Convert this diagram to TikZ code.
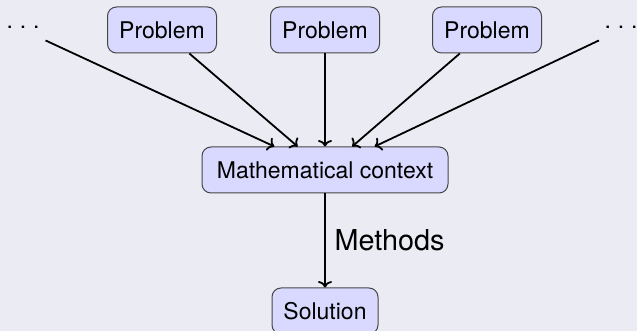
\documentclass[tikz,border=0pt]{standalone}
\usepackage{fontspec}
\setmainfont{TeX Gyre Heros}
\usetikzlibrary{arrows.meta}
\definecolor{bgcol}{RGB}{235,235,244}
\definecolor{boxfill}{RGB}{217,217,255}
\definecolor{boxdraw}{RGB}{70,70,70}
\begin{document}
\begin{tikzpicture}[x=1pt,y=1pt,
  box/.style={draw=boxdraw, fill=boxfill, rounded corners=4.5pt, line width=0.5pt,
    minimum height=23pt, inner sep=0pt, font=\fontsize{11.5}{13}\selectfont},
  dotsnode/.style={inner sep=3.33pt, font=\fontsize{11.5}{13}\selectfont},
  conn/.style={line width=0.9pt, -{To[length=3.2pt,width=7pt]}}]
\useasboundingbox (0,0) rectangle (318.5,165.5);
\clip (0,0) rectangle (318.5,165.5);
\fill[bgcol] (0,0) rectangle (318.5,165.5);
\node[dotsnode] (dl) at (11.5,150.5) {\raisebox{2.2pt}{.\kern.3em.\kern.3em.}};
\node[box, minimum width=54.5pt] (p1) at (81,150.5) {Problem};
\node[box, minimum width=54.5pt] (p2) at (162.5,150.5) {Problem};
\node[box, minimum width=54.5pt] (p3) at (243.5,150.5) {Problem};
\node[dotsnode] (dr) at (310.5,150.5) {\raisebox{2.2pt}{.\kern.3em.\kern.3em.}};
\node[box, minimum width=123pt] (mc) at (162.5,80.5) {Mathematical context};
\node[box, minimum width=53pt] (sol) at (162.5,10) {Solution};
\draw[conn] (dl) -- (mc);
\draw[conn] (p1) -- (mc);
\draw[conn] (p2) -- (mc);
\draw[conn] (p3) -- (mc);
\draw[conn] (dr) -- (mc);
\draw[conn] (mc) -- node[right, xshift=1pt, font=\fontsize{14.4}{17}\selectfont] (meth) {Methods} (sol);
\end{tikzpicture}
\end{document}
